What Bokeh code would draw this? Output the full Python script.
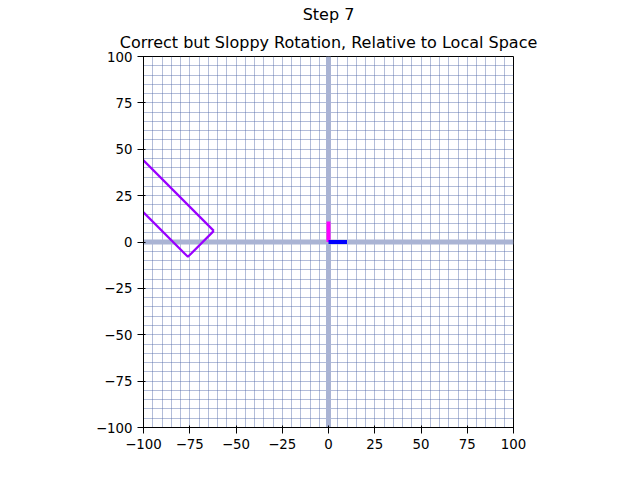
from bokeh.plotting import figure
from bokeh.models import FixedTicker, Span, Title
from bokeh.embed import file_html
from bokeh.resources import INLINE

ticks = [-100, -75, -50, -25, 0, 25, 50, 75, 100]
minor = list(range(-100, 101, 5))

# rotated rectangle (corners, partly outside the view)
rect_x = [-62, -76, -132.6, -118.6, -62]
rect_y = [6, -8, 48.6, 62.6, 6]

# local axes markers
up_x = [0, 0]
up_y = [0, 11]
right_x = [0, 10]
right_y = [0, 0]

p = figure(width=640, height=480, x_range=(-100, 100), y_range=(-100, 100),
           output_backend="svg", toolbar_location=None, title="Step 7",
           min_border_left=143, min_border_right=127, min_border_top=20, min_border_bottom=53)
for t in (p.title,):
    t.align = "center"
    t.text_font = "DejaVu Sans"
    t.text_font_size = "12pt"
    t.text_font_style = "normal"
    t.text_color = "black"
    t.standoff = 4
p.add_layout(Title(text="Correct but Sloppy Rotation, Relative to Local Space", align="center",
                   text_font="DejaVu Sans", text_font_size="12pt", text_font_style="normal",
                   text_color="black"), "above")

for ax in (p.xaxis, p.yaxis):
    ax.ticker = FixedTicker(ticks=ticks)
    ax.minor_tick_line_color = None
    ax.major_label_text_font = "DejaVu Sans"
    ax.major_label_text_font_size = "10pt"
    ax.major_label_text_color = "black"
    ax.axis_line_color = "black"
    ax.major_tick_line_color = "black"
p.xaxis.major_label_overrides = {t: str(t).replace("-", "\u2212") for t in ticks}
p.yaxis.major_label_overrides = {t: str(t).replace("-", "\u2212") for t in ticks}

p.xgrid.ticker = FixedTicker(ticks=minor)
p.ygrid.ticker = FixedTicker(ticks=minor)
p.grid.grid_line_color = "#5068a8"
p.grid.grid_line_alpha = 0.55
p.grid.grid_line_width = 0.8
p.outline_line_color = "black"

p.add_layout(Span(location=0, dimension="height", line_color="#aab4d4", line_width=5, level="underlay"))
p.add_layout(Span(location=0, dimension="width", line_color="#aab4d4", line_width=5, level="underlay"))

p.line(rect_x, rect_y, line_color="#9900ff", line_width=2.2)
p.line(up_x, up_y, line_color="magenta", line_width=4)
p.line(right_x, right_y, line_color="blue", line_width=4)

open("out.html", "w").write(file_html(p, INLINE))
